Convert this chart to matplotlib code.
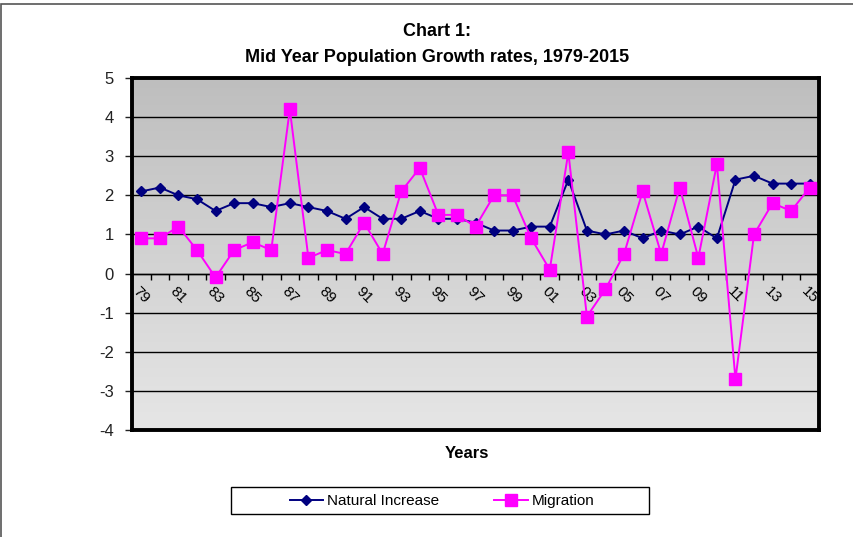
import numpy as np
import matplotlib
matplotlib.use("Agg")
import matplotlib.pyplot as plt
from matplotlib.patches import Rectangle

# ---------------- data ----------------
YEARS = list(range(1979, 2016))
NATURAL_INCREASE = [2.1, 2.2, 2.0, 1.9, 1.6, 1.8, 1.8, 1.7, 1.8, 1.7,
                    1.6, 1.4, 1.7, 1.4, 1.4, 1.6, 1.4, 1.4, 1.3, 1.1,
                    1.1, 1.2, 1.2, 2.4, 1.1, 1.0, 1.1, 0.9, 1.1, 1.0,
                    1.2, 0.9, 2.4, 2.5, 2.3, 2.3, 2.3]
MIGRATION = [0.9, 0.9, 1.2, 0.6, -0.1, 0.6, 0.8, 0.6, 4.2, 0.4,
             0.6, 0.5, 1.3, 0.5, 2.1, 2.7, 1.5, 1.5, 1.2, 2.0,
             2.0, 0.9, 0.1, 3.1, -1.1, -0.4, 0.5, 2.1, 0.5, 2.2,
             0.4, 2.8, -2.7, 1.0, 1.8, 1.6, 2.2]
Y_MIN, Y_MAX = -4, 5

plt.rcParams["font.family"] = ["Liberation Sans", "DejaVu Sans"]
plt.rcParams["axes.unicode_minus"] = False

fig = plt.figure(figsize=(8.54, 5.37), dpi=100)
W, H = 854, 537

# outer chart border (only left and top visible)
fig.patches.append(Rectangle((1.5 / W, -0.1), 1.2, 1.1 - 4 / H,
                             transform=fig.transFigure, fill=False,
                             edgecolor="#555555", linewidth=1.2))

ax = fig.add_axes([132 / W, 1 - 430 / H, 687 / W, 352 / H])

x = np.arange(len(YEARS))
ax.set_xlim(-0.5, len(YEARS) - 0.5)
ax.set_ylim(Y_MIN, Y_MAX)

# grey gradient background (darker at top)
grad = np.linspace(0, 1, 256).reshape(-1, 1)
ax.imshow(grad, cmap=matplotlib.colors.LinearSegmentedColormap.from_list(
    "bg", ["#bebebe", "#e6e6e6"]), aspect="auto",
    extent=[-0.5, len(YEARS) - 0.5, Y_MIN, Y_MAX], origin="upper", zorder=0)

ax.set_yticks(range(Y_MIN, Y_MAX + 1))
ax.grid(axis="y", color="black", linewidth=1.0, zorder=1)
ax.tick_params(axis="y", direction="out", length=5, width=1, pad=8,
               labelsize=12, colors="#222222")
ax.tick_params(axis="x", bottom=False, labelbottom=False)
for s in ax.spines.values():
    s.set_linewidth(2.8)
    s.set_color("black")

ax.plot(x, NATURAL_INCREASE, color="#000080", marker="D", markersize=5.5,
        linewidth=1.4, label="Natural Increase", zorder=3)
ax.plot(x, MIGRATION, color="#ff00ff", marker="s", markersize=8,
        linewidth=1.4, label="Migration", zorder=3)

# category axis crossing at zero
sec = ax.secondary_xaxis((0 - Y_MIN) / (Y_MAX - Y_MIN))
sec.spines["bottom"].set_linewidth(1.0)
sec.set_xticks(x[::2], [f"{y % 100:02d}" for y in YEARS[::2]])
sec.set_xticks(np.arange(-0.5, len(YEARS), 1), minor=True)
sec.tick_params(axis="x", which="major", length=0, pad=8, labelsize=11,
                labelrotation=-45)
sec.tick_params(axis="x", which="minor", length=4, width=1, direction="out")
for lbl in sec.get_xticklabels():
    lbl.set_ha("center")
    lbl.set_va("top")
    lbl.set_rotation_mode("default")

fig.text(437 / W, 1 - 31 / H, "Chart 1:", ha="center", va="center",
         fontsize=13, fontweight="bold")
fig.text(437 / W, 1 - 57 / H, "Mid Year Population Growth rates, 1979-2015",
         ha="center", va="center", fontsize=13, fontweight="bold")
fig.text(467 / W, 1 - 453 / H, "Years", ha="center", va="center",
         fontsize=12, fontweight="bold")

# legend box
fig.patches.append(Rectangle((231 / W, 1 - 514 / H), 418 / W, 27 / H,
                             transform=fig.transFigure, fill=False,
                             edgecolor="black", linewidth=1.0))
fig.legend(loc="center", ncol=2, bbox_to_anchor=(442 / W, 1 - 501 / H),
           frameon=False, fontsize=11, handlelength=2.2,
           handletextpad=0.25, columnspacing=3.6, borderaxespad=0,
           borderpad=0)

fig.savefig("out.png", dpi=100)
